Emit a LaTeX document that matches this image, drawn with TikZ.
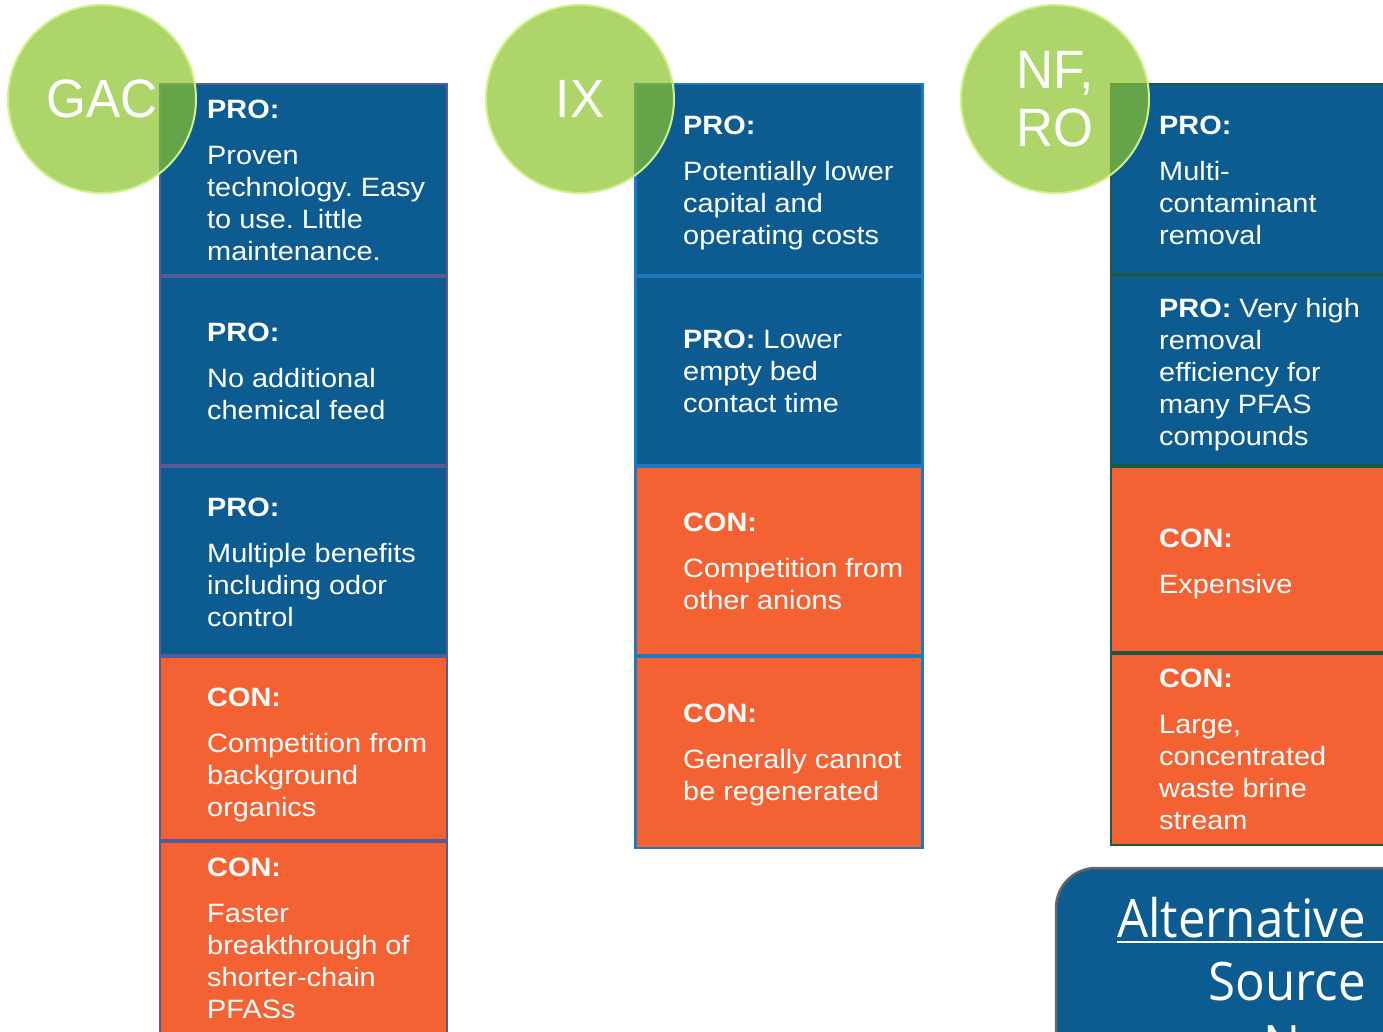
\documentclass[tikz,border=0pt]{standalone}
\usepackage{fontspec}
\setmainfont{Liberation Sans}
\newfontfamily\boxfont[FakeStretch=1.09]{Liberation Sans}
\newfontfamily\circfont[FakeStretch=0.95]{Liberation Sans}
\newfontfamily\altfont[FakeStretch=0.93]{Open Sans}
\frenchspacing

\definecolor{problue}{RGB}{13,92,145}
\definecolor{conorange}{RGB}{244,98,51}
\definecolor{bubblegreen}{RGB}{139,195,42}
\definecolor{bubblerim}{RGB}{205,242,135}
\definecolor{gacedge}{RGB}{88,90,150}
\definecolor{ixedge}{RGB}{30,120,190}
\definecolor{nfedge}{RGB}{28,88,70}
\definecolor{altedge}{RGB}{100,100,100}

\begin{document}
\begin{tikzpicture}[x=1pt,y=-1pt,
  cell/.style={draw, line width=2pt, inner sep=0pt, minimum width=287pt},
  pro/.style={cell, fill=problue},
  con/.style={cell, fill=conorange},
  txt/.style={anchor=base west, inner sep=0pt, align=left, text=white,
    font={\boxfont\fontsize{26.5}{32}\selectfont}},
  bubble/.style={circle, minimum size=188pt, inner sep=0pt, fill=bubblegreen,
    fill opacity=0.7, text opacity=1, draw=bubblerim, line width=2pt,
    text=white, align=center, font={\circfont\fontsize{54}{58}\selectfont}},
  alt/.style={anchor=base east, inner sep=0pt, text=white,
    font={\altfont\fontsize{53}{63}\selectfont}}]
  \useasboundingbox (0,0) rectangle (1383,1031);
  \clip (0,0) rectangle (1383,1031);

  % GAC
  \node[pro, draw=gacedge, minimum height=191pt] (gac1) at (303.5,179.5) {};
  \node[pro, draw=gacedge, minimum height=188pt] (gac2) at (303.5,371) {};
  \node[pro, draw=gacedge, minimum height=188pt] (gac3) at (303.5,561) {};
  \node[con, draw=gacedge, minimum height=183pt] (gac4) at (303.5,748.5) {};
  \node[con, draw=gacedge, minimum height=192pt] (gac5) at (303.5,938) {};
  % text nodes sit on the baseline of their last line
  \node[txt] (gac1t) at (207,260) {\textbf{PRO:}\\[14pt]Proven\\technology. Easy\\to use. Little\\maintenance.};
  \node[txt] (gac2t) at (207,419) {\textbf{PRO:}\\[14pt]No additional\\chemical feed};
  \node[txt] (gac3t) at (207,626) {\textbf{PRO:}\\[14pt]Multiple benefits\\including odor\\control};
  \node[txt] (gac4t) at (207,816) {\textbf{CON:}\\[14pt]Competition from\\background\\organics};
  \node[txt] (gac5t) at (207,1018) {\textbf{CON:}\\[14pt]Faster\\breakthrough of\\shorter-chain\\PFASs};

  % IX
  \node[pro, draw=ixedge, line width=2.5pt, minimum height=191pt] (ix1) at (779,179.5) {};
  \node[pro, draw=ixedge, line width=2.5pt, minimum height=188pt] (ix2) at (779,371) {};
  \node[con, draw=ixedge, line width=2.5pt, minimum height=188pt] (ix3) at (779,561) {};
  \node[con, draw=ixedge, line width=2.5pt, minimum height=191pt] (ix4) at (779,752.5) {};
  \node[txt] (ix1t) at (683,244) {\textbf{PRO:}\\[14pt]Potentially lower\\capital and\\operating costs};
  \node[txt] (ix2t) at (683,412) {\textbf{PRO:} Lower\\empty bed\\contact time};
  \node[txt] (ix3t) at (683,609) {\textbf{CON:}\\[14pt]Competition from\\other anions};
  \node[txt] (ix4t) at (683,800) {\textbf{CON:}\\[14pt]Generally cannot\\be regenerated};

  % NF, RO
  \node[pro, draw=nfedge, line width=2.5pt, minimum height=190pt] (nf1) at (1254.5,179) {};
  \node[pro, draw=nfedge, line width=2.5pt, minimum height=189pt] (nf2) at (1254.5,370.5) {};
  \node[con, draw=nfedge, line width=2.5pt, minimum height=185pt] (nf3) at (1254.5,559.5) {};
  \node[con, draw=nfedge, line width=2.5pt, minimum height=191pt] (nf4) at (1254.5,749.5) {};
  \node[txt] (nf1t) at (1159,244) {\textbf{PRO:}\\[14pt]Multi-\\contaminant\\removal};
  \node[txt] (nf2t) at (1159,445) {\textbf{PRO:} Very high\\removal\\efficiency for\\many PFAS\\compounds};
  \node[txt] (nf3t) at (1159,593) {\textbf{CON:}\\[14pt]Expensive};
  \node[txt] (nf4t) at (1159,829) {\textbf{CON:}\\[14pt]Large,\\concentrated\\waste brine\\stream};

  % labels
  \node[bubble] (gac) at (102,99) {GAC};
  \node[bubble] (ix) at (580,99) {IX};
  \node[bubble] (nfro) at (1055,99) {NF,\\RO};

  % source box
  \node[draw=altedge, line width=2.5pt, fill=problue, rounded corners=40pt,
    minimum width=364pt, minimum height=232pt] (altbox) at (1238,984) {};
  \node[alt] (alt1) at (1366,937) {Alternative};
  \node[alt] (alt2) at (1366,1000) {Source};
  \node[alt] (alt3) at (1366,1063) {New};
  \draw[white, line width=2pt] ([yshift=-5pt]alt1.base west) -- ([yshift=-5pt,xshift=30pt]alt1.base east);
\end{tikzpicture}
\end{document}
